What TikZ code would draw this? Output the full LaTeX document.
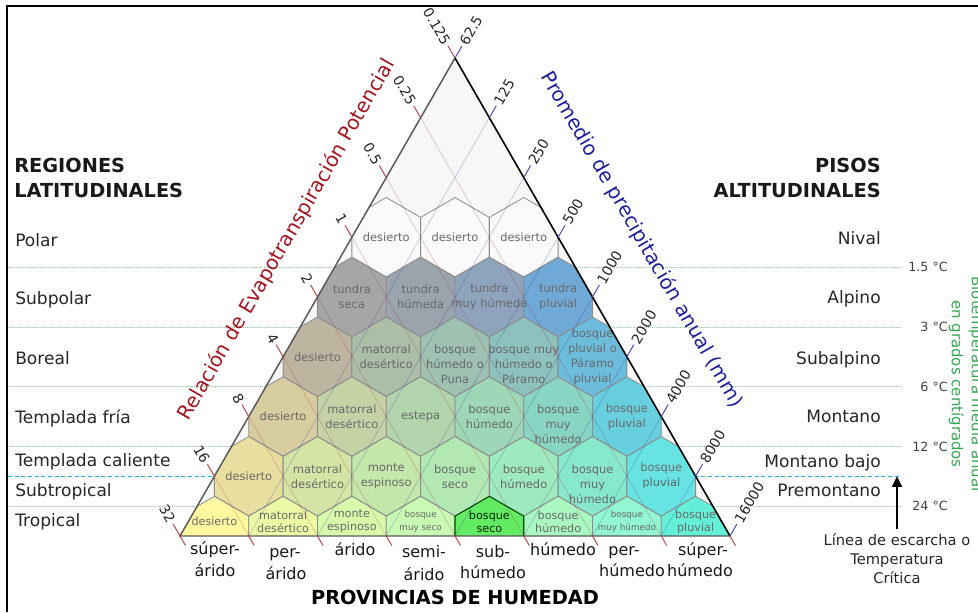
\documentclass[tikz,border=0pt]{standalone}
\usepackage{fontspec}
\setmainfont{DejaVu Sans}
\usepackage{xcolor}
\usetikzlibrary{positioning, arrows.meta, calc}

\definecolor{petRed}{RGB}{165,20,30}
\definecolor{ppBlue}{RGB}{30,30,160}
\definecolor{bioGreen}{RGB}{50,168,80}
\definecolor{bandGreen}{RGB}{140,200,150}
\definecolor{frostCyan}{RGB}{30,180,225}
\definecolor{hexLine}{RGB}{140,140,140}
\definecolor{hexInk}{RGB}{105,105,105}
% hexagon fills, c<row><column>
\definecolor{c30}{RGB}{250,250,250}
\definecolor{c31}{RGB}{250,250,250}
\definecolor{c32}{RGB}{250,250,250}
\definecolor{c40}{RGB}{166,166,166}
\definecolor{c41}{RGB}{154,164,173}
\definecolor{c42}{RGB}{142,164,188}
\definecolor{c43}{RGB}{112,168,214}
\definecolor{c50}{RGB}{190,181,160}
\definecolor{c51}{RGB}{172,190,168}
\definecolor{c52}{RGB}{158,193,177}
\definecolor{c53}{RGB}{140,193,190}
\definecolor{c54}{RGB}{108,188,220}
\definecolor{c60}{RGB}{215,205,160}
\definecolor{c61}{RGB}{196,210,166}
\definecolor{c62}{RGB}{178,213,173}
\definecolor{c63}{RGB}{158,215,183}
\definecolor{c64}{RGB}{136,213,196}
\definecolor{c65}{RGB}{104,207,222}
\definecolor{c70}{RGB}{232,222,160}
\definecolor{c71}{RGB}{212,228,165}
\definecolor{c72}{RGB}{196,232,171}
\definecolor{c73}{RGB}{178,233,179}
\definecolor{c74}{RGB}{158,234,191}
\definecolor{c75}{RGB}{136,232,204}
\definecolor{c76}{RGB}{102,227,226}
\definecolor{c80}{RGB}{255,248,160}
\definecolor{c81}{RGB}{236,250,166}
\definecolor{c82}{RGB}{216,250,171}
\definecolor{c83}{RGB}{200,250,179}
\definecolor{c84}{RGB}{100,235,100}
\definecolor{c85}{RGB}{170,248,193}
\definecolor{c86}{RGB}{145,246,209}
\definecolor{c87}{RGB}{100,240,216}

\newcommand{\hexnorm}{\fontsize{8.6}{11.25}\selectfont}
\newcommand{\hexlow}{\fontsize{8.4}{9.75}\selectfont}
\newcommand{\hexsmall}{\fontsize{6.6}{9.75}\selectfont}

% row/column/label shift/font/label of each life zone
\newcommand{\zoneList}{
  3/0/0/\hexnorm/desierto, 3/1/0/\hexnorm/desierto, 3/2/0/\hexnorm/desierto,
  4/0/0/\hexnorm/tundra\\seca, 4/1/0/\hexnorm/tundra\\húmeda,
  4/2/0/\hexnorm/tundra\\muy húmeda, 4/3/0/\hexnorm/tundra\\pluvial,
  5/0/0/\hexnorm/desierto, 5/1/0/\hexnorm/matorral\\desértico,
  5/2/7.5/\hexnorm/bosque\\húmedo o\\Puna, 5/3/7.5/\hexnorm/bosque muy\\húmedo o\\Páramo,
  5/4/0/\hexnorm/bosque\\pluvial o\\Páramo\\pluvial,
  6/0/0/\hexnorm/desierto, 6/1/0/\hexnorm/matorral\\desértico, 6/2/0/\hexnorm/estepa,
  6/3/0/\hexnorm/bosque\\húmedo, 6/4/7.5/\hexnorm/bosque\\muy\\húmedo, 6/5/0/\hexnorm/bosque\\pluvial,
  7/0/0/\hexnorm/desierto, 7/1/0/\hexnorm/matorral\\desértico, 7/2/0/\hexnorm/monte\\espinoso,
  7/3/0/\hexnorm/bosque\\seco, 7/4/0/\hexnorm/bosque\\húmedo, 7/5/7.5/\hexnorm/bosque\\muy\\húmedo,
  7/6/0/\hexnorm/bosque\\pluvial,
  8/0/-14.5/\hexlow/desierto, 8/1/-14.5/\hexlow/matorral\\desértico, 8/2/-14.5/\hexlow/monte\\espinoso,
  8/3/-14.5/\hexsmall/bosque\\muy seco, 8/5/-14.5/\hexlow/bosque\\húmedo,
  8/6/-14.5/\hexsmall/bosque\\muy húmedo, 8/7/-14.5/\hexlow/bosque\\pluvial}

\begin{document}
\begin{tikzpicture}[x=0.75pt, y=-0.75pt,
    hexCell/.style={draw=hexLine, line width=0.6pt},
    hexText/.style={align=center, text=hexInk, inner sep=0pt},
    petGrid/.style={draw=petRed, draw opacity=0.25, line width=0.5pt},
    ppGrid/.style={draw=ppBlue, draw opacity=0.25, line width=0.5pt},
    petTick/.style={draw=petRed!75!white, line width=0.8pt},
    ppTick/.style={draw=ppBlue!75!white, line width=0.8pt},
    tickLabel/.style={font=\fontsize{10.5}{13}\selectfont, text=black!85, inner sep=1.5pt},
    bandLine/.style={draw=bandGreen, dash pattern=on 0.8pt off 0.8pt, line width=0.6pt},
    zoneLabel/.style={font=\fontsize{12.8}{15}\selectfont, text=black!85, inner sep=0pt},
    headLabel/.style={font=\bfseries\fontsize{14.5}{18.75}\selectfont, text=black!90, inner sep=0pt},
    tempLabel/.style={font=\fontsize{9.5}{11}\selectfont, text=black!75, anchor=east, inner sep=0pt},
    provLabel/.style={font=\fontsize{12}{14.5}\selectfont, text=black!90, inner sep=0pt, anchor=base},
    axisTitle/.style={font=\fontsize{15}{18}\selectfont, inner sep=0pt}]

  \useasboundingbox (0,0) rectangle (978,612);
  \draw[line width=1.5pt] (7,612) -- (7,6) -- (978,6);

  \coordinate (apex) at (455,58);
  \coordinate (leftC) at (180,536);
  \coordinate (rightC) at (730,536);
  \fill[black!3] (apex) -- (leftC) -- (rightC) -- cycle;

  % temperature bands
  \foreach \y/\name/\lab in {267.1/t1/1.5 °C, 326.9/t2/3 °C, 386.6/t3/6 °C, 446.4/t4/12 °C, 506.1/t5/24 °C}{
    \coordinate (\name w) at (8,\y);
    \coordinate (\name e) at (900,\y);
    \draw[bandLine] (\name w) -- (\name e);
    \node[tempLabel] (\name) at (948,\y) {\lab};
  }
  \coordinate (frostW) at (8,476.25);
  \coordinate (frostE) at (900,476.25);
  \draw[frostCyan, dash pattern=on 3pt off 2pt, line width=0.9pt] (frostW) -- (frostE);

  % life zones: cells first, labels after
  \begin{scope}
    \clip (apex) -- (leftC) -- (rightC) -- cycle;
    \foreach \n/\m/\dy/\fnt/\txt in \zoneList{
      \pgfmathsetmacro\cx{455+34.375*(2*\m-\n+1)}
      \pgfmathsetmacro\cy{58+59.75*\n}
      \filldraw[hexCell, fill=c\n\m] (\cx,\cy-39.7) -- ++(34.375,19.85) -- ++(0,39.7)
        -- ++(-34.375,19.85) -- ++(-34.375,-19.85) -- ++(0,-39.7) -- cycle;
    }
    % highlighted zone
    \filldraw[fill=c84, draw=black!70!green, line width=0.8pt] (489.4,496.3) -- ++(34.375,19.85) -- ++(0,39.7)
      -- ++(-34.375,19.85) -- ++(-34.375,-19.85) -- ++(0,-39.7) -- cycle;
  \end{scope}
  \foreach \n/\m/\dy/\fnt/\txt in \zoneList{
    \pgfmathsetmacro\cx{455+34.375*(2*\m-\n+1)}
    \pgfmathsetmacro\cy{58+59.75*\n}
    \node[hexText, font=\fnt] (hex\n\m) at (\cx,\cy+\dy) {\txt};
  }
  \node[hexText, font=\hexlow, text=black!85!green] (hex84) at (489.4,521.5) {bosque\\seco};

  % grid of the two log axes
  \begin{scope}
    \clip (apex) -- (leftC) -- (rightC) -- cycle;
    \foreach \k in {0,...,8}{
      \draw[petGrid] (455-34.375*\k,58+59.75*\k) -- (730-68.75*\k,536);
      \draw[ppGrid] (455+34.375*\k,58+59.75*\k) -- (180+68.75*\k,536);
    }
  \end{scope}

  \draw[black!65, line width=1.1pt] (rightC) -- (leftC) -- (apex);
  \draw[black, line width=1.2pt] (apex) -- (rightC);

  % ticks
  \foreach \k/\lab in {0/0.125,1/0.25,2/0.5,3/1,4/2,5/4,6/8,7/16,8/32}{
    \coordinate (pet\k) at (455-34.375*\k,58+59.75*\k);
    \coordinate (base\k) at (730-68.75*\k,536);
    \draw[petTick] (pet\k) -- ++(-6.9,-12) node[tickLabel, rotate=-60, anchor=east] (petLab\k) {\lab};
    \draw[petTick] (base\k) -- ++(5.5,9.5);
  }
  \foreach \k/\lab in {0/62.5,1/125,2/250,3/500,4/1000,5/2000,6/4000,7/8000,8/16000}{
    \coordinate (pp\k) at (455+34.375*\k,58+59.75*\k);
    \draw[ppTick] (pp\k) -- ++(6.9,-12) node[tickLabel, rotate=60, anchor=west] (ppLab\k) {\lab};
  }

  \node[axisTitle, text=petRed, rotate=60] (petTitle) at (287,240) {Relación de Evapotranspiración Potencial};
  \node[axisTitle, text=ppBlue, rotate=-60] (ppTitle) at (642,240) {Promedio de precipitación anual (mm)};

  % latitudinal regions
  \node[headLabel, align=left, anchor=west] (regHead) at (14,178) {REGIONES\\LATITUDINALES};
  \foreach \y/\name/\txt in {246/polar/Polar, 304/subpolar/Subpolar, 364/boreal/Boreal,
      423/tfria/Templada fría, 466/tcal/Templada caliente, 496/subtrop/Subtropical, 526/trop/Tropical}{
    \node[zoneLabel, anchor=base west] (\name) at (15,\y) {\txt};
  }

  % altitudinal belts
  \node[headLabel, align=right, anchor=east] (pisHead) at (881,178) {PISOS\\ALTITUDINALES};
  \foreach \y/\name/\txt in {244/nival/Nival, 303/alpino/Alpino, 364/subalp/Subalpino,
      422/montano/Montano, 467/mbajo/Montano bajo, 496/premont/Premontano}{
    \node[zoneLabel, anchor=base east] (\name) at (881,\y) {\txt};
  }

  \node[rotate=-90, align=center, text=bioGreen, font=\fontsize{11.2}{15}\selectfont] (bioTitle) at (966,384)
    {Biotemperatura media anual\\en grados centígrados};

  \node[align=center, font=\fontsize{11}{14.25}\selectfont, text=black!85, anchor=north] (frostNote) at (897,529)
    {Línea de escarcha o\\Temperatura\\Crítica};
  \draw[-{Triangle[length=8pt, width=7.5pt]}, line width=1.7pt] (frostNote.north) -- (frostNote.north |- frostE);

  % humidity provinces
  \foreach \xa/\ya/\xb/\yb/\name/\first/\second in {215/554/215/576/sarido/súper-/árido,
      285/557/286/579/parido/per-/árido, 424/557/424/580/semiarido/semi-/árido,
      493/557/493/578/subhum/sub-/húmedo, 624/555/632/576/perhum/per-/húmedo,
      703/555/700/576/shum/súper-/húmedo}{
    \node[provLabel] (\name a) at (\xa,\ya) {\first};
    \node[provLabel] (\name b) at (\xb,\yb) {\second};
  }
  \node[provLabel] (arido) at (355,555) {árido};
  \node[provLabel] (humedo) at (563,555) {húmedo};
  \node[font=\bfseries\fontsize{14.5}{18}\selectfont, anchor=base, inner sep=0pt] (provTitle) at (455,604) {PROVINCIAS DE HUMEDAD};
\end{tikzpicture}
\end{document}
